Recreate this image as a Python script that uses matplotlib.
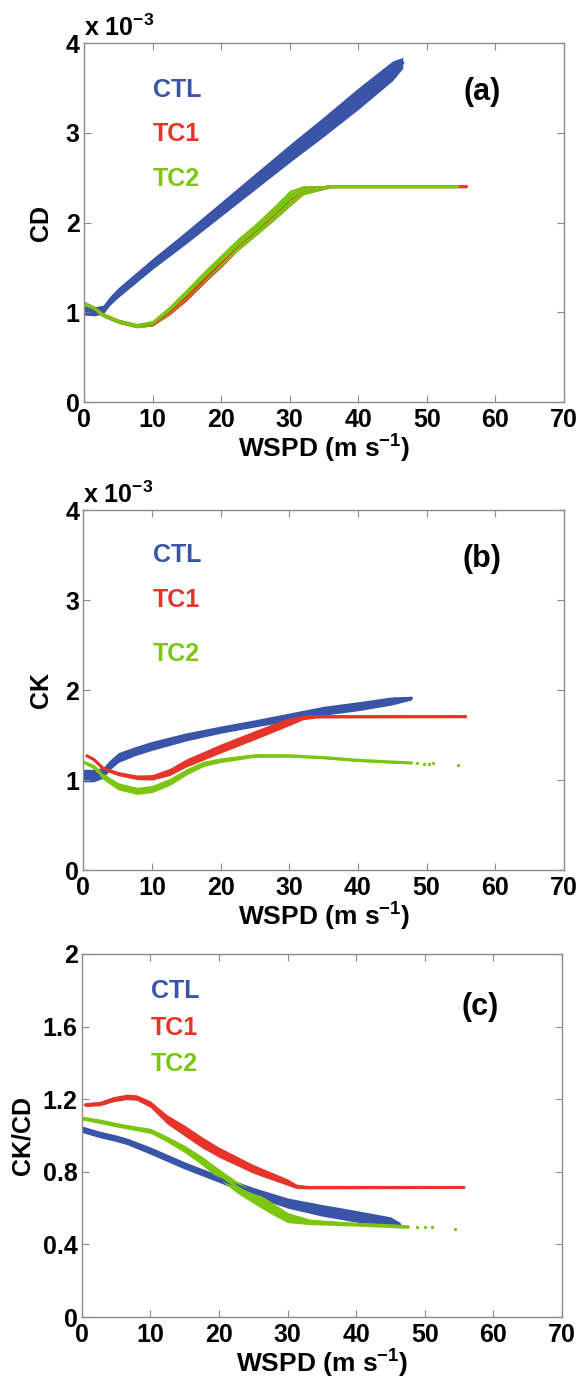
import numpy as np
import matplotlib
matplotlib.use('Agg')
import matplotlib.pyplot as plt

plt.rcParams['font.family'] = ['Liberation Sans', 'DejaVu Sans']
plt.rcParams['font.weight'] = 'bold'
plt.rcParams['mathtext.fontset'] = 'custom'
plt.rcParams['mathtext.rm'] = 'Liberation Sans:bold'
plt.rcParams['mathtext.default'] = 'regular'

c_ctl = '#3a55a8'
c_tc1 = '#e5352b'
c_tc2 = '#7cc511'

# ---- panel (a): CD (x 1e-3) ----
cd_ctl_w  = [0, 1.5, 2.8, 3.8, 5, 10, 15, 20, 25, 30, 35, 40, 45, 46.5]
cd_ctl    = [1.02, 1.01, 1.03, 1.13, 1.22, 1.54, 1.84, 2.15, 2.46, 2.77, 3.07, 3.38, 3.69, 3.78]
cd_ctl_hw = [0.05, 0.05, 0.05, 0.05, 0.055, 0.06, 0.07, 0.08, 0.09, 0.10, 0.11, 0.12, 0.11, 0.06]

cd_tc1_w  = [0, 1.4, 2.8, 5, 7.7, 10, 12.5, 15, 17.5, 20, 22.5, 25, 27.5, 30, 32, 34, 36, 55.8]
cd_tc1    = [1.10, 1.05, 0.97, 0.90, 0.85, 0.87, 1.01, 1.18, 1.37, 1.56, 1.75, 1.91, 2.08, 2.26, 2.36, 2.38, 2.40, 2.40]
cd_tc1_hw = [0.015, 0.02, 0.02, 0.02, 0.02, 0.025, 0.04, 0.05, 0.05, 0.06, 0.06, 0.06, 0.07, 0.08, 0.05, 0.03, 0.012, 0.012]

cd_tc2_w  = [0, 1.4, 2.8, 5, 7.7, 10, 12.5, 15, 17.5, 20, 22.5, 25, 27.5, 30, 32, 34, 36, 54.5]
cd_tc2    = [1.10, 1.05, 0.97, 0.90, 0.85, 0.88, 1.03, 1.21, 1.40, 1.58, 1.76, 1.92, 2.09, 2.27, 2.36, 2.38, 2.40, 2.40]
cd_tc2_hw = [0.02, 0.025, 0.025, 0.025, 0.025, 0.03, 0.045, 0.055, 0.06, 0.065, 0.07, 0.07, 0.08, 0.09, 0.05, 0.03, 0.012, 0.012]

# ---- panel (b): CK (x 1e-3) ----
ck_ctl_w  = [0, 1.5, 2.9, 3.9, 5.1, 7.5, 10, 15, 20, 25, 30, 35, 40, 45, 47.8]
ck_ctl    = [1.05, 1.05, 1.08, 1.17, 1.25, 1.32, 1.38, 1.48, 1.56, 1.63, 1.70, 1.77, 1.82, 1.88, 1.91]
ck_ctl_hw = [0.07, 0.07, 0.06, 0.055, 0.055, 0.05, 0.05, 0.045, 0.04, 0.04, 0.045, 0.05, 0.05, 0.045, 0.02]

ck_tc1_w  = [0.5, 1.5, 2.9, 5.1, 7.8, 10, 12.6, 15, 20, 25, 30, 32, 34, 55.7]
ck_tc1    = [1.27, 1.23, 1.13, 1.07, 1.03, 1.03, 1.09, 1.19, 1.35, 1.50, 1.65, 1.70, 1.705, 1.705]
ck_tc1_hw = [0.012, 0.015, 0.02, 0.022, 0.025, 0.03, 0.04, 0.045, 0.05, 0.05, 0.045, 0.03, 0.015, 0.012]

ck_tc2_w  = [0, 1.5, 2.9, 5.1, 7.8, 10, 12.6, 15, 17.5, 20, 25, 30, 35, 40, 45, 47.8]
ck_tc2    = [1.20, 1.15, 1.04, 0.93, 0.88, 0.90, 0.98, 1.09, 1.18, 1.22, 1.27, 1.27, 1.25, 1.22, 1.20, 1.19]
ck_tc2_hw = [0.015, 0.025, 0.035, 0.04, 0.04, 0.04, 0.04, 0.035, 0.03, 0.025, 0.018, 0.016, 0.014, 0.014, 0.013, 0.01]
ck_tc2_dots_w = [48.6, 49.6, 50.3, 51.0, 54.5]
ck_tc2_dots   = [1.185, 1.18, 1.18, 1.185, 1.17]

# ---- panel (c): CK/CD ----
r_ctl_w  = [0, 2.7, 4.9, 6.6, 10, 15, 20, 25, 30, 35, 40, 45, 46.4]
r_ctl    = [1.035, 1.005, 0.986, 0.968, 0.917, 0.835, 0.762, 0.689, 0.628, 0.588, 0.555, 0.524, 0.506]
r_ctl_hw = [0.018, 0.018, 0.018, 0.018, 0.02, 0.02, 0.02, 0.025, 0.028, 0.032, 0.032, 0.028, 0.015]

r_tc1_w  = [0.5, 2.7, 4.6, 6.6, 8, 10, 12.4, 15, 17.5, 20, 25, 30, 31.3, 33, 55.7]
r_tc1    = [1.169, 1.176, 1.20, 1.213, 1.209, 1.173, 1.09, 1.027, 0.963, 0.908, 0.816, 0.743, 0.72, 0.714, 0.714]
r_tc1_hw = [0.01, 0.012, 0.014, 0.015, 0.015, 0.018, 0.025, 0.03, 0.03, 0.028, 0.024, 0.018, 0.012, 0.008, 0.006]

r_tc2_w  = [0, 2.7, 4.9, 6.6, 10, 12.4, 15, 17.5, 20, 22.6, 25, 27.4, 30, 33.3, 40, 45.4, 47.6]
r_tc2    = [1.096, 1.078, 1.06, 1.048, 1.026, 0.981, 0.926, 0.862, 0.789, 0.716, 0.661, 0.606, 0.548, 0.524, 0.511, 0.502, 0.497]
r_tc2_hw = [0.01, 0.012, 0.012, 0.012, 0.014, 0.016, 0.02, 0.024, 0.028, 0.032, 0.034, 0.034, 0.028, 0.015, 0.01, 0.01, 0.008]
r_tc2_dots_w = [48.8, 50.0, 51.0, 54.4]
r_tc2_dots   = [0.497, 0.495, 0.497, 0.486]

names = ['CTL', 'TC1', 'TC2']
colors = [c_ctl, c_tc1, c_tc2]


def draw_band(ax, w, c, hw, color):
    w = np.asarray(w)
    c = np.asarray(c)
    hw = np.asarray(hw)
    ax.fill_between(w, c - hw, c + hw, color=color, lw=0)
    ax.plot(w, c, color=color, lw=2.2, solid_capstyle='round')


def style_axes(ax, ymax, yticks, ylabel, ylabpad):
    ax.set_xlim(0, 70)
    ax.set_ylim(0, ymax)
    ax.set_xticks(np.arange(0, 71, 10))
    ax.set_yticks(yticks)
    ax.set_yticklabels(['%g' % t for t in yticks])
    for sp in ax.spines.values():
        sp.set_color('#8c8c8c')
        sp.set_linewidth(1.0)
    ax.tick_params(direction='in', length=5, width=0.8, color='#8c8c8c',
                   top=True, right=True, labelsize=18)
    ax.tick_params(axis='x', pad=4)
    ax.tick_params(axis='y', pad=3)
    ax.set_xlabel(r'WSPD (m s$^{-1}$)', fontsize=19, fontweight='bold', labelpad=1)
    ax.set_ylabel(ylabel, fontsize=18, fontweight='bold', labelpad=ylabpad)


def legend_text(ax, ys, tag, tag_y):
    for name, col, y in zip(names, colors, ys):
        ax.text(10.1, y, name, color=col, fontsize=18, fontweight='bold',
                ha='left', va='center')
    ax.text(58, tag_y, tag, fontsize=22, fontweight='bold', ha='center', va='center')


fig = plt.figure(figsize=(5.82, 13.83), dpi=100)

# (a)
ax1 = fig.add_axes([0.1443, 0.7093, 0.8247, 0.2596])
draw_band(ax1, cd_ctl_w, cd_ctl, cd_ctl_hw, c_ctl)
draw_band(ax1, cd_tc1_w, cd_tc1, cd_tc1_hw, c_tc1)
draw_band(ax1, cd_tc2_w, cd_tc2, cd_tc2_hw, c_tc2)
style_axes(ax1, 4, [0, 1, 2, 3, 4], 'CD', 9)
legend_text(ax1, [3.48, 2.99, 2.49], '(a)', 3.45)
ax1.text(0.0, 1.005, r'x 10$^{-3}$', transform=ax1.transAxes, fontsize=18,
         fontweight='bold', ha='left', va='bottom')

# (b)
ax2 = fig.add_axes([0.1431, 0.3709, 0.8259, 0.2603])
draw_band(ax2, ck_ctl_w, ck_ctl, ck_ctl_hw, c_ctl)
draw_band(ax2, ck_tc1_w, ck_tc1, ck_tc1_hw, c_tc1)
draw_band(ax2, ck_tc2_w, ck_tc2, ck_tc2_hw, c_tc2)
ax2.plot(ck_tc2_dots_w, ck_tc2_dots, 'o', color=c_tc2, ms=2.4, mew=0)
style_axes(ax2, 4, [0, 1, 2, 3, 4], 'CK', 9)
legend_text(ax2, [3.50, 3.00, 2.40], '(b)', 3.46)
ax2.text(0.0, 1.005, r'x 10$^{-3}$', transform=ax2.transAxes, fontsize=18,
         fontweight='bold', ha='left', va='bottom')

# (c)
ax3 = fig.add_axes([0.1404, 0.0477, 0.8253, 0.2625])
draw_band(ax3, r_ctl_w, r_ctl, r_ctl_hw, c_ctl)
draw_band(ax3, r_tc1_w, r_tc1, r_tc1_hw, c_tc1)
draw_band(ax3, r_tc2_w, r_tc2, r_tc2_hw, c_tc2)
ax3.plot(r_tc2_dots_w, r_tc2_dots, 'o', color=c_tc2, ms=2.4, mew=0)
style_axes(ax3, 2, [0, 0.4, 0.8, 1.2, 1.6, 2], 'CK/CD', 6)
legend_text(ax3, [1.795, 1.593, 1.392], '(c)', 1.71)

fig.savefig('out.png', dpi=100)
